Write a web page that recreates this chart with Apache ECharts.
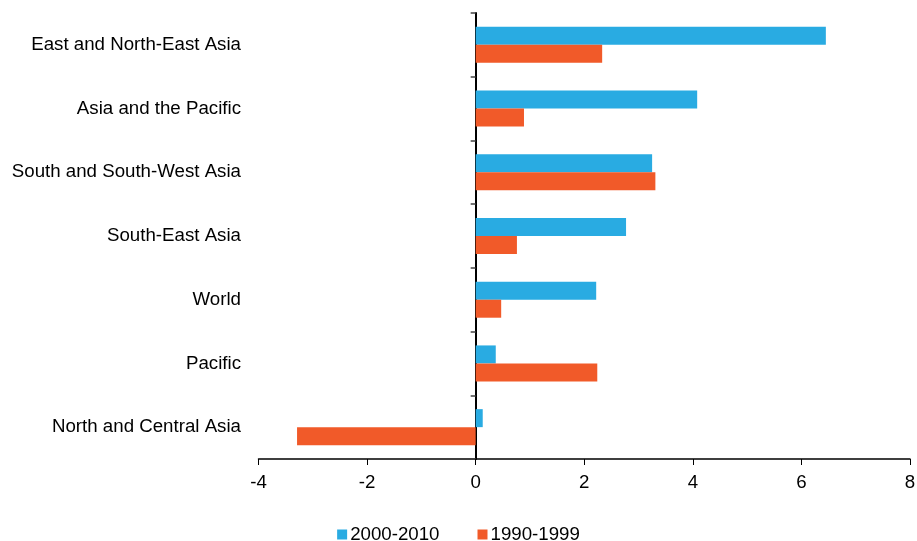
<!DOCTYPE html>
<html>
<head>
<meta charset="utf-8">
<script src="https://cdn.jsdelivr.net/npm/echarts@6/dist/echarts.min.js"></script>
<style>
html,body{margin:0;padding:0;background:#fff;}
#container{width:917px;height:541px;}
</style>
</head>
<body>
<div id="container"></div>
<script>
var regions = ['East and North-East Asia','Asia and the Pacific','South and South-West Asia','South-East Asia','World','Pacific','North and Central Asia'];
var growth2000s = [6.45, 4.08, 3.25, 2.77, 2.22, 0.37, 0.13];
var growth1990s = [2.33, 0.89, 3.31, 0.76, 0.47, 2.24, -3.29];
var seriesNames = ['2000-2010','1990-1999'];

var dom = document.getElementById("container");
var myChart = echarts.init(dom);
var font = "Liberation Sans, Arial, sans-serif";
var option = {
    animation: false,
    color: ['#29ABE2','#F15A29'],
    grid: {left: 258.5, right: 7, top: 13, bottom: 82, containLabel: false, outerBoundsMode: 'none'},
    legend: {
        bottom: -8,
        left: 'center',
        itemWidth: 10,
        itemHeight: 10,
        itemGap: 38,
        icon: 'rect',
        textStyle: {fontSize: 18.7, color: '#000', fontFamily: font, padding: [0,0,0,-2]},
        data: seriesNames
    },
    xAxis: {
        type: 'value',
        min: -4,
        max: 8,
        interval: 2,
        axisLine: {show: true, lineStyle: {color: '#000', width: 1.5}},
        axisTick: {show: true, length: 6, lineStyle: {color: '#000', width: 1}},
        splitLine: {show: false},
        axisLabel: {fontSize: 18.7, color: '#000', fontFamily: font, margin: 14}
    },
    yAxis: {
        type: 'category',
        inverse: true,
        data: regions,
        axisLine: {show: true, onZero: true, lineStyle: {color: '#000', width: 2}},
        axisTick: {show: true, length: 5, lineStyle: {color: '#444', width: 1.5}},
        axisLabel: {fontSize: 18.7, color: '#000', fontFamily: font, margin: 17.5}
    },
    series: [
        {name: seriesNames[0], type: 'bar', data: growth2000s, barWidth: 18, barGap: '0%'},
        {name: seriesNames[1], type: 'bar', data: growth1990s, barWidth: 18, barGap: '0%'}
    ]
};
myChart.setOption(option, true);
</script>
</body>
</html>
